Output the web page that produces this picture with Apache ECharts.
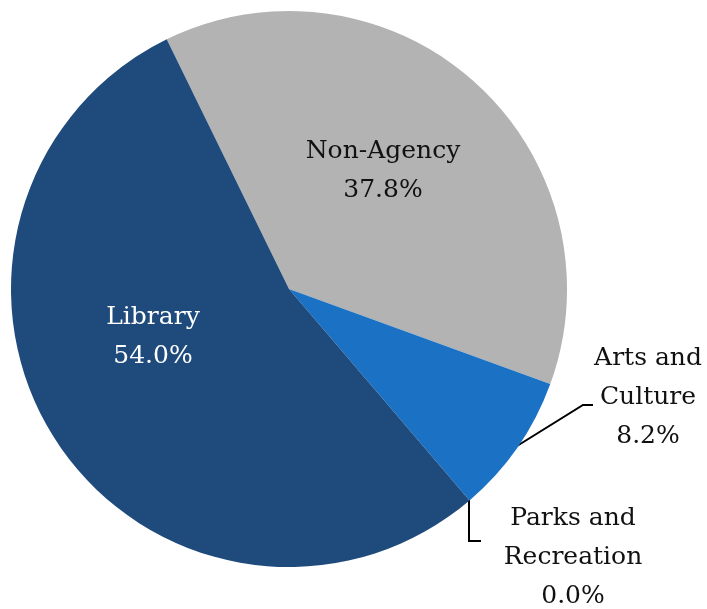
<!DOCTYPE html>
<html><head><meta charset="utf-8">
<script src="https://cdn.jsdelivr.net/npm/echarts@6/dist/echarts.min.js"></script>
<style>html,body{margin:0;padding:0;background:#fff}#c{width:707px;height:609px}</style>
</head><body><div id="c"></div>
<script>
const categories = ['Non-Agency', 'Arts and\nCulture', 'Parks and\nRecreation', 'Library'];
const values = [37.8, 8.2, 0.0, 54.0];
const colors = ['#B3B3B3', '#1B71C4', '#1E4A7C', '#1E4A7C'];
const labelColors = ['#111', '#111', '#111', '#ffffff'];
const labelPositions = ['inside', 'outside', 'outside', 'inside'];

const labelPos = [
  {x: 383, y: 171, line: null},
  {x: 648, y: 397, line: [[517, 446], [583, 405], [593, 405]]},
  {x: 573, y: 557, line: [[469, 500], [469, 541], [481, 541]]},
  {x: 153, y: 337, line: null}
];

const chart = echarts.init(document.getElementById('c'));
chart.setOption({
  animation: false,
  series: [{
    type: 'pie',
    center: [289, 289],
    radius: 278,
    startAngle: 116.1,
    clockwise: true,
    minShowLabelAngle: -1,
    avoidLabelOverlap: false,
    data: categories.map((n, i) => ({
      name: n, value: values[i],
      itemStyle: {color: colors[i]},
      label: {color: labelColors[i], position: labelPositions[i]},
      labelLine: {show: !!labelPos[i].line}
    })),
    label: {
      show: true,
      formatter: p => p.name + '\n' + p.value.toFixed(1) + '%',
      fontFamily: 'DejaVu Serif',
      fontSize: 25,
      lineHeight: 39,
      align: 'center',
      textBorderWidth: 0
    },
    labelLine: {show: true, lineStyle: {color: '#000', width: 2}},
    labelLayout: function (p) {
      const lp = labelPos[p.dataIndex];
      const r = {x: lp.x, y: lp.y, align: 'center', verticalAlign: 'middle'};
      if (lp.line) r.labelLinePoints = lp.line;
      return r;
    }
  }]
});
</script></body></html>
